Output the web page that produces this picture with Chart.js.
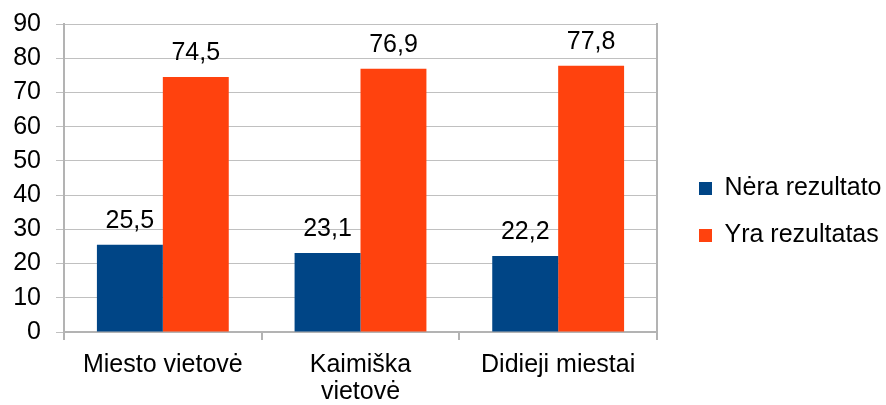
<!DOCTYPE html>
<html><head><meta charset="utf-8">
<script src="https://cdn.jsdelivr.net/npm/chart.js@4/dist/chart.umd.min.js"></script>
<style>html,body{margin:0;padding:0;background:#fff;}#wrap{width:886px;height:405px;}</style>
</head><body><div id="wrap"><canvas id="c" width="886" height="405"></canvas></div>
<script>
const categories = [['Miesto vietovė'], ['Kaimiška', 'vietovė'], ['Didieji miestai']];
const seriesNames = ['Nėra rezultato', 'Yra rezultatas'];
const neraRezultato = [25.5, 23.1, 22.2];
const yraRezultatas = [74.5, 76.9, 77.8];
const yMin = 0, yMax = 90, yStep = 10;
const seriesColors = ['#004586', '#ff420e'];

const FONT = '"Liberation Sans", Arial, sans-serif';
const AXIS = '#b3b3b3';
const GRID = '#c0c0c0';

const valueLabels = {
  id: 'valueLabels',
  afterDatasetsDraw(chart) {
    const ctx = chart.ctx;
    ctx.save();
    ctx.font = '25px ' + FONT;
    ctx.fillStyle = '#000';
    ctx.textAlign = 'center';
    ctx.textBaseline = 'alphabetic';
    chart.data.datasets.forEach((ds, i) => {
      chart.getDatasetMeta(i).data.forEach((bar, j) => {
        ctx.fillText(String(ds.data[j]).replace('.', ','), bar.x, bar.y - 17);
      });
    });
    ctx.restore();
  }
};

new Chart(document.getElementById('c'), {
  type: 'bar',
  data: {
    labels: categories,
    datasets: [
      { label: seriesNames[0], data: neraRezultato, backgroundColor: seriesColors[0], borderWidth: 0 },
      { label: seriesNames[1], data: yraRezultatas, backgroundColor: seriesColors[1], borderWidth: 0 }
    ]
  },
  options: {
    responsive: false,
    animation: false,
    devicePixelRatio: 1,
    categoryPercentage: 0.667,
    barPercentage: 1.0,
    layout: { padding: { top: 24, left: 13, right: 4, bottom: 5 } },
    plugins: {
      tooltip: { enabled: false },
      legend: {
        position: 'right',
        align: 'center',
        maxWidth: 205,
        labels: {
          boxWidth: 13, boxHeight: 13, padding: 22,
          color: '#000',
          font: { size: 25, family: FONT }
        }
      }
    },
    scales: {
      x: {
        offset: true,
        grid: { offset: true, drawOnChartArea: false, drawTicks: true, tickLength: 8, color: AXIS, lineWidth: 2 },
        border: { display: true, color: AXIS, width: 2 },
        ticks: { color: '#000', padding: 11, maxRotation: 0, autoSkip: false, font: { size: 25, family: FONT, lineHeight: 1.1 } },
        afterFit(scale) { scale.paddingLeft = 0; scale.paddingRight = 0; scale.height = 68; }
      },
      y: {
        min: yMin, max: yMax,
        grid: { color: GRID, lineWidth: 1, drawTicks: true, tickLength: 8 },
        border: { display: true, color: AXIS, width: 2 },
        ticks: { stepSize: yStep, autoSkip: false, color: '#000', padding: 15, font: { size: 25, family: FONT } },
        afterFit(scale) { scale.width = 51; scale.paddingTop = 0; scale.paddingBottom = 0; }
      },
      yr: {
        position: 'right',
        min: 0, max: 1,
        ticks: { display: false },
        grid: { drawOnChartArea: false, drawTicks: false },
        border: { display: true, color: AXIS, width: 2 },
        afterFit(scale) { scale.width = 20; scale.paddingTop = 0; scale.paddingBottom = 0; }
      }
    }
  },
  plugins: [valueLabels]
});
</script>
</body></html>
